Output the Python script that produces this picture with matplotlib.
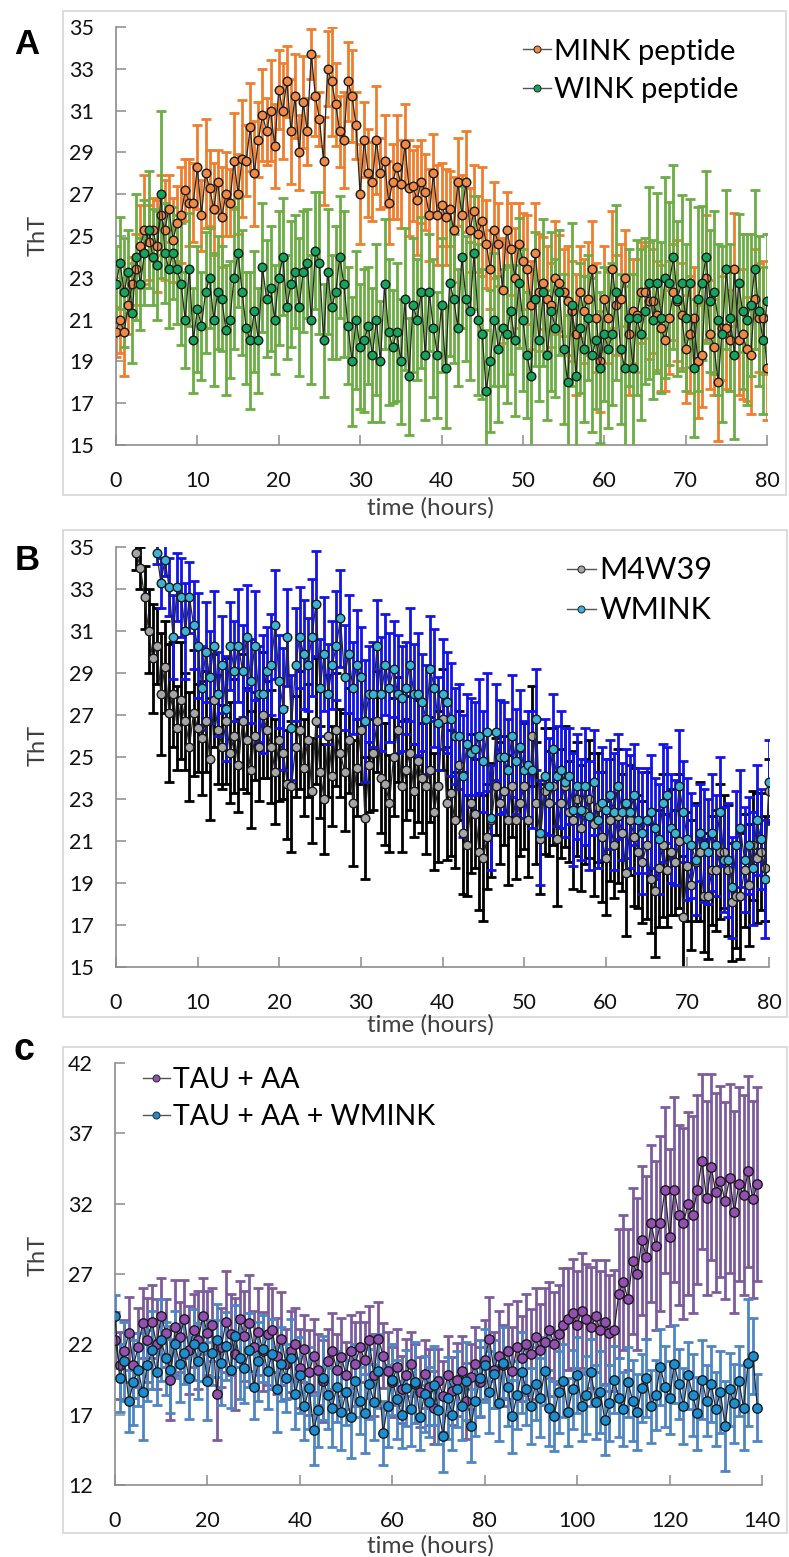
import numpy as np
import matplotlib
matplotlib.use("Agg")
import matplotlib.pyplot as plt
from matplotlib.lines import Line2D
from matplotlib.patches import Rectangle

plt.rcParams['font.family'] = ['Lato', 'DejaVu Sans']

# ---------------- DATA ----------------
# Panel A (time step 0.5 h, starting at 0 h)
a_t0, a_step = 0.0, 0.5
mink = [20.4,21.0,20.4,21.7,22.7,23.4,24.5,25.3,24.7,25.3,24.5,26.0,25.3,26.3,24.8,25.6,26.0,27.2,26.6,26.6,
        28.3,26.0,28.0,27.3,26.3,27.6,25.9,27.0,26.6,28.6,27.0,28.7,28.6,30.2,28.0,29.6,30.8,30.0,31.0,29.3,
        32.0,31.0,32.4,30.0,31.7,29.0,31.4,30.0,33.7,31.7,30.6,28.6,33.0,32.4,31.3,30.0,29.6,32.4,31.7,30.3,
        27.0,29.6,28.0,27.6,29.6,28.0,28.6,26.6,27.6,28.3,27.5,29.4,27.3,27.4,26.7,27.6,27.1,26.0,28.0,26.0,
        26.5,25.9,26.3,25.3,27.6,26.0,27.6,25.3,26.2,25.1,25.7,24.6,23.4,25.3,24.6,22.4,25.3,24.4,23.0,24.6,
        23.8,23.4,21.7,24.2,22.3,22.75,22.0,21.7,23.0,22.75,22.3,21.9,21.4,20.3,22.3,21.4,22.0,23.4,21.1,19.0,
        22.0,21.1,23.4,21.7,22.0,23.0,20.3,21.4,21.2,22.3,22.3,21.9,21.9,21.2,20.6,20.0,21.1,22.3,21.9,21.2,
        19.6,20.3,21.1,19.0,19.3,23.0,20.3,19.7,18.0,20.6,20.6,20.0,23.4,20.0,20.3,19.6,19.3,22.0,21.1,21.1,
        18.7]
mink_err = [1.2,1.6,2.1,1.4,1.3,1.7,2.0,2.6,1.8,1.5,2.2,1.9,2.4,1.6,2.0,1.8,2.3,1.5,2.1,1.9,
            2.0,1.7,2.6,1.8,2.2,1.5,2.4,2.0,1.6,2.3,1.9,2.8,1.7,2.1,2.5,1.8,2.2,1.6,2.4,2.0,
            1.9,2.3,1.7,2.5,2.0,1.8,2.2,1.6,1.2,1.9,1.3,2.1,1.8,2.6,2.0,1.7,2.3,1.9,2.2,1.6,
            2.4,1.8,2.1,1.9,2.6,1.7,2.2,2.0,1.8,2.5,2.1,1.9,2.3,1.7,2.6,2.0,1.8,2.2,1.9,2.4,
            2.0,2.3,1.8,2.5,2.1,1.9,2.4,2.0,2.2,1.8,2.6,2.1,1.9,2.3,2.0,2.5,1.8,2.2,2.4,2.0,
            2.3,2.6,2.1,2.4,2.8,2.2,2.5,2.0,2.7,2.3,2.1,2.6,2.4,2.9,2.2,2.5,2.7,2.3,2.6,2.4,
            2.5,2.2,2.8,2.4,2.6,2.3,2.9,2.5,2.7,2.4,2.2,2.8,2.5,2.6,3.0,2.4,2.7,2.3,2.9,2.5,
            2.6,2.8,2.4,2.7,2.5,3.0,2.6,2.3,2.8,2.5,2.9,2.4,2.7,2.6,3.1,2.5,2.8,2.4,2.6,2.7,
            2.5]
wink = [22.7,23.7,22.3,23.3,21.3,24.0,22.7,24.2,25.3,24.0,23.6,27.0,24.2,23.4,24.2,23.4,22.7,21.0,23.4,20.0,
        21.5,20.7,22.3,23.0,21.0,22.3,22.0,20.5,21.0,23.0,24.2,22.3,20.6,20.0,21.4,20.0,23.5,22.0,22.5,21.0,
        23.0,24.0,21.6,22.7,23.3,21.6,23.3,23.7,21.0,24.3,23.7,20.0,23.3,21.6,22.3,24.0,22.7,20.7,19.0,21.0,
        19.7,20.0,20.7,19.3,21.0,19.0,22.7,20.4,19.7,20.4,19.0,22.0,18.3,21.7,21.0,22.3,19.3,22.3,20.6,19.3,
        21.7,18.7,22.75,22.0,20.6,24.0,22.0,21.4,24.2,21.0,20.3,17.6,19.0,21.0,19.6,20.6,20.3,21.4,20.0,22.75,
        21.0,19.3,18.3,22.0,20.0,22.3,19.3,21.4,20.6,22.3,19.6,18.0,21.7,18.3,20.6,19.6,21.1,19.3,20.0,18.7,
        20.3,19.6,20.3,22.3,19.6,18.7,21.1,18.7,21.1,20.3,21.4,22.75,21.0,22.75,21.1,23.0,22.75,24.0,22.0,22.75,
        21.1,22.75,18.7,22.0,22.75,24.0,21.9,22.3,21.0,20.3,23.4,21.1,19.3,22.75,21.4,21.0,21.7,23.4,21.4,20.0,
        21.9]
wink_err = [1.8,2.2,2.6,2.0,2.4,3.0,2.2,2.5,2.8,2.3,2.6,4.0,2.4,2.8,2.2,2.6,2.9,2.3,2.7,2.5,
            3.0,2.6,2.9,2.4,3.2,2.7,2.5,3.1,2.8,3.4,2.6,3.0,2.7,3.3,2.9,2.5,3.1,2.8,3.0,2.6,
            3.2,2.8,2.5,3.0,2.7,3.3,2.9,2.6,3.1,2.8,3.4,2.7,3.0,2.5,3.2,2.9,3.5,2.8,3.1,3.3,
            3.0,3.4,2.8,3.2,3.6,2.9,3.1,3.5,2.7,3.3,3.0,3.4,2.8,3.2,2.9,3.6,3.1,2.8,3.3,3.0,
            3.2,2.9,3.5,3.1,2.8,3.4,3.0,3.3,2.7,3.6,3.1,2.9,3.4,3.2,3.5,2.8,3.3,3.0,3.6,3.1,
            3.4,3.0,3.7,3.2,2.9,3.5,3.1,3.8,3.3,3.0,3.6,3.2,3.9,3.4,3.1,3.5,3.0,3.7,3.3,3.6,
            3.2,3.8,3.4,4.2,3.6,3.9,3.3,4.5,3.7,4.1,3.5,4.6,3.8,4.3,3.6,4.8,3.9,4.4,3.7,4.2,
            3.5,4.0,3.3,4.4,3.7,4.1,3.4,3.9,3.6,4.2,3.8,3.5,4.0,3.3,3.7,4.1,3.4,3.8,3.6,3.5,
            3.2]

# Panel B (time step 0.5 h)
m4_t0, wm_t0, b_step = 2.5, 5.0, 0.5
m4w39 = [34.7,34.0,32.6,31.0,29.7,30.3,28.0,29.3,27.1,28.0,26.4,27.7,26.7,25.5,27.1,26.4,25.9,26.7,24.9,27.7,
         26.3,25.5,26.7,25.2,26.0,24.6,26.7,25.8,24.4,26.0,25.5,27.0,26.3,25.5,24.3,25.8,25.2,23.7,23.6,25.5,
         26.3,24.5,25.8,23.4,26.7,24.3,23.0,26.0,24.1,26.3,25.2,24.3,25.8,22.8,24.5,26.3,22.1,24.6,25.2,26.7,
         24.0,23.7,22.8,25.0,26.3,23.6,24.4,25.2,23.4,24.8,24.0,23.6,24.4,22.4,23.6,26.8,22.8,23.3,22.0,24.6,
         21.4,20.8,22.8,22.3,20.5,20.2,21.2,22.0,23.6,22.8,23.4,22.0,23.6,22.0,22.8,23.6,22.0,26.0,22.8,21.1,
         23.4,22.8,23.6,21.1,22.8,23.6,22.4,22.0,23.0,21.6,22.4,23.0,21.8,22.6,21.2,20.2,22.0,20.8,22.2,21.4,
         19.5,22.0,21.2,20.5,20.0,20.8,19.2,18.6,19.7,20.8,19.6,20.5,20.0,21.0,17.4,19.8,18.9,20.0,20.5,18.4,
         18.4,19.6,19.6,20.5,20.5,19.6,18.1,18.4,18.4,19.6,18.9,20.8,20.2,20.5,19.7,23.4]
m4w39_err = [0.8,1.0,1.5,2.0,2.6,1.8,2.9,2.2,3.3,2.5,2.0,2.8,2.3,2.6,3.0,2.1,2.7,2.4,2.9,2.2,
             2.6,2.0,3.0,2.4,2.7,2.2,3.2,2.5,2.8,2.1,2.6,3.0,2.3,2.7,2.5,2.9,2.2,2.6,3.1,2.4,
             2.8,2.3,2.7,2.5,3.0,2.2,2.6,2.9,2.4,2.7,2.1,2.8,2.5,3.0,2.3,2.6,2.9,2.2,2.7,2.4,
             2.6,2.9,2.3,2.8,2.5,3.1,2.4,2.7,2.2,2.9,2.6,3.2,2.5,2.8,3.6,2.4,2.7,3.0,2.3,2.6,
             2.9,2.4,3.3,2.6,2.8,3.0,2.5,2.7,2.3,2.9,2.6,3.1,2.4,2.8,2.5,3.0,2.7,2.4,2.9,2.6,
             3.0,2.5,2.8,3.2,2.6,2.9,2.4,3.3,2.7,3.0,2.5,2.8,3.4,2.6,3.1,2.7,2.9,2.5,3.2,2.8,
             3.0,2.6,3.3,2.7,2.9,3.5,2.6,3.1,2.8,3.4,2.7,3.0,2.5,3.2,2.9,2.6,3.1,2.8,3.3,2.7,
             3.0,2.6,2.9,3.2,2.7,3.1,2.8,2.5,3.0,2.7,2.9,2.6,3.1,2.8,2.5,1.5]
wmink = [34.7,33.3,34.4,33.1,30.7,33.1,32.6,31.0,32.6,31.3,30.3,28.3,30.0,28.8,30.3,28.0,29.4,27.3,30.3,29.1,
         30.3,29.1,30.7,28.6,30.3,28.0,28.0,29.1,29.4,31.3,28.6,27.3,30.7,26.4,29.4,30.7,29.9,29.4,30.7,32.3,
         28.3,29.9,28.0,29.4,30.3,31.6,28.8,29.9,28.3,29.4,28.8,26.7,28.0,28.0,30.3,28.0,29.4,28.3,29.2,28.0,
         27.8,28.3,29.4,28.0,28.0,27.6,26.8,29.2,28.3,26.6,28.0,27.6,26.8,26.0,26.0,24.1,25.6,25.2,25.4,26.0,
         24.8,26.2,22.1,26.2,25.0,25.0,24.4,26.0,24.8,25.5,24.4,24.6,24.4,26.8,21.4,24.1,23.6,25.4,24.1,24.4,
         23.8,24.1,22.5,23.6,22.5,23.6,22.2,23.8,22.0,22.8,22.5,23.2,22.4,23.6,22.4,22.8,22.4,23.2,22.0,21.4,
         22.0,22.4,21.6,21.1,22.8,23.2,21.6,21.4,23.6,22.4,21.1,20.8,20.1,21.4,20.8,20.5,21.4,20.8,22.4,20.1,
         20.1,18.8,20.8,21.6,20.1,20.8,19.7,22.0,21.1,19.2,23.8]
wmink_err = [0.5,1.2,0.8,1.4,2.0,1.6,1.9,2.3,1.7,2.1,2.5,2.0,2.4,2.2,2.6,2.0,2.3,2.5,2.1,2.4,
             2.7,2.2,2.5,2.0,2.6,2.3,2.8,2.1,2.4,2.6,2.2,2.9,2.3,2.5,2.7,2.4,2.6,2.2,2.8,2.5,
             2.3,2.7,2.4,2.1,2.6,2.3,2.5,2.8,2.2,2.6,2.4,2.9,2.3,2.5,2.2,2.7,2.4,2.6,2.3,2.8,
             2.5,2.2,2.7,2.4,2.9,2.3,2.6,2.5,2.8,2.2,2.6,2.4,2.7,2.3,2.5,2.9,2.4,2.6,2.2,2.7,
             2.4,2.8,2.5,2.3,2.7,2.6,2.4,2.9,2.5,2.7,2.3,2.6,2.8,2.4,2.5,2.7,2.3,2.6,2.4,2.8,
             2.6,2.3,2.7,2.5,2.4,2.8,2.6,2.5,2.3,2.7,2.4,2.6,2.8,2.5,2.3,2.6,2.7,2.4,2.5,2.9,
             2.5,2.7,2.4,2.6,2.8,2.3,2.6,2.5,2.7,2.4,2.9,2.5,2.6,2.3,2.7,2.5,2.8,2.4,2.6,2.5,
             2.7,2.4,2.6,2.8,2.5,2.3,2.7,2.6,2.4,2.8,2.0]

# Panel C (time step 1 h, starting at 0 h)
c_t0, c_step = 0.0, 1.0
tau_aa = [22.3,20.5,21.5,22.8,20.5,21.8,23.5,22.3,23.6,22.0,24.0,22.8,19.5,23.2,22.5,23.8,21.6,23.0,22.3,24.0,
          22.8,23.4,18.5,21.8,23.6,22.7,21.3,23.8,22.6,23.5,21.8,22.9,21.5,22.7,23.0,21.2,22.4,20.6,21.5,22.0,
          20.3,21.7,20.0,21.2,20.2,19.4,20.8,21.5,20.2,21.1,19.8,21.5,20.6,21.8,20.9,22.3,19.8,22.4,21.2,20.1,
          19.3,20.4,18.8,19.8,20.6,19.2,18.6,19.9,19.0,17.5,19.4,18.3,19.8,18.7,19.5,20.1,18.0,19.7,20.6,19.3,
          20.9,22.4,20.2,21.2,20.5,21.5,20.1,21.8,21.0,22.0,21.3,22.5,21.6,22.2,23.0,22.0,22.7,23.4,23.8,24.2,
          23.4,24.4,23.8,23.2,24.0,23.0,23.6,22.8,23.0,25.6,26.4,25.2,27.9,27.0,29.4,28.2,30.6,29.0,30.6,33.0,
          29.6,33.0,31.2,30.6,32.0,31.2,33.0,35.0,32.4,34.6,32.8,33.6,32.2,33.8,31.4,33.4,32.6,34.3,32.3,33.4]
tau_aa_err = [2.0,2.4,2.2,2.6,2.3,2.8,2.5,3.0,2.6,3.2,2.7,2.4,2.9,3.4,2.5,2.8,3.1,2.6,3.5,2.7,
              3.0,2.6,3.3,2.8,3.6,2.9,4.0,2.7,3.2,3.4,2.6,3.1,2.8,3.6,3.0,2.7,3.3,2.5,2.9,2.6,
              2.8,2.4,3.0,2.6,2.5,2.9,2.3,2.7,2.5,2.8,2.4,2.6,3.0,2.5,2.7,2.4,2.9,2.6,2.3,2.8,
              2.5,2.7,2.4,2.6,2.3,2.8,2.5,2.4,2.7,2.6,2.3,2.5,2.8,2.4,2.6,2.5,2.7,2.3,2.6,2.5,
              2.8,3.0,2.7,3.2,2.9,3.4,3.1,3.3,3.0,3.6,3.2,3.5,3.3,3.8,3.4,3.7,3.5,4.0,3.6,3.9,
              3.8,4.1,3.9,4.3,4.0,4.2,4.4,4.1,4.3,4.6,4.8,5.0,5.2,5.4,5.3,5.8,5.6,6.0,6.2,5.9,
              6.3,6.6,6.4,6.8,6.5,7.0,6.7,6.2,6.9,6.6,7.1,6.8,7.0,6.7,7.2,6.9,7.1,6.8,7.0,6.9]
tau_aa_wmink = [24.0,19.6,20.8,18.0,19.3,20.2,18.6,20.5,21.6,20.0,22.3,21.0,20.2,22.0,20.6,21.4,19.6,22.0,20.8,21.8,
                19.4,21.4,22.3,20.7,21.9,20.2,22.6,21.0,20.3,21.6,19.0,20.8,21.7,20.1,21.3,18.8,20.6,19.6,21.0,18.5,
                19.8,17.6,18.9,15.9,17.3,19.6,18.4,17.5,19.0,17.2,18.6,16.8,19.4,18.0,17.1,19.2,17.9,20.1,15.7,17.6,
                19.5,18.1,17.0,18.9,17.4,19.3,16.8,18.5,17.9,19.1,17.3,15.5,18.2,17.0,18.8,17.6,19.4,16.2,18.0,19.6,
                20.5,18.6,19.9,17.8,20.7,19.0,16.9,18.4,20.0,18.8,17.6,19.2,18.2,20.1,17.5,16.9,18.6,19.4,17.2,18.8,
                19.8,17.6,18.4,20.0,17.9,18.6,16.6,17.8,19.5,18.2,17.4,19.3,18.0,17.2,18.9,19.6,17.6,18.4,20.4,19.0,
                18.2,20.6,19.2,17.6,19.8,18.4,17.1,19.5,18.0,19.2,17.4,18.6,16.2,18.8,17.8,19.4,17.5,20.7,21.2,17.5]
tau_aa_wmink_err = [1.5,2.4,2.8,2.2,3.0,2.6,3.4,2.5,2.8,2.3,2.9,2.6,3.1,2.4,2.7,2.2,2.9,2.5,2.7,2.4,
                    2.8,2.3,2.6,3.0,2.4,2.7,2.2,2.9,2.5,2.6,2.3,2.8,2.4,2.7,2.5,3.0,2.6,2.4,2.8,2.5,
                    2.7,2.4,2.9,2.5,2.6,3.0,2.4,2.8,2.5,2.7,2.3,2.9,2.6,2.4,2.8,2.5,2.7,2.6,2.3,2.9,
                    2.5,2.8,2.4,2.7,2.6,2.9,2.3,2.7,2.5,2.8,2.4,2.6,2.9,2.5,2.7,2.4,2.8,2.6,2.5,2.7,
                    2.6,2.9,2.4,2.7,2.5,2.8,2.6,2.4,2.9,2.5,2.7,2.6,2.8,2.4,2.7,2.5,2.9,2.6,2.4,2.8,
                    2.7,2.5,2.8,2.4,2.6,2.9,2.5,2.7,2.4,2.8,2.6,2.5,2.9,2.7,2.4,2.8,2.6,2.5,2.7,2.9,
                    2.6,2.8,2.5,2.7,2.4,2.9,2.6,2.8,2.5,2.7,2.6,2.9,3.2,2.6,2.8,2.5,3.0,4.5,2.7,2.4]

# ---------------- FIGURE ----------------
W, H = 789, 1557
fig = plt.figure(figsize=(W / 100, H / 100), dpi=100)


def fx(px):
    return px / W


def fy(py):
    return 1 - py / H


def add_frame(x0, y0, x1, y1):
    fig.add_artist(Rectangle((fx(x0), fy(y1)), fx(x1) - fx(x0), fy(y0) - fy(y1),
                             transform=fig.transFigure, fill=False, ec='#d6d6d6', lw=1.2))


def make_axes(x0, y0, x1, y1):
    ax = fig.add_axes([fx(x0), fy(y1), fx(x1) - fx(x0), fy(y0) - fy(y1)])
    for s in ('top', 'right'):
        ax.spines[s].set_visible(False)
    for s in ('left', 'bottom'):
        ax.spines[s].set_color('#8c8c8c')
        ax.spines[s].set_linewidth(1.2)
    ax.tick_params(axis='both', direction='in', length=7, width=1.1, color='#8c8c8c',
                   labelsize=15.5, labelcolor='#111111')
    ax.tick_params(axis='y', pad=16)
    ax.tick_params(axis='x', pad=19)
    ax.patch.set_alpha(0)
    return ax


def series(ax, t0, step, vals, errs, ecol, elw=2.0, z=2):
    x = t0 + step * np.arange(len(vals))
    ax.errorbar(x, vals, yerr=errs, fmt='none', ecolor=ecol, elinewidth=elw,
                capsize=3.4, capthick=elw, zorder=z)
    return x


def markers(ax, x, vals, face, z=5, ms=6.2):
    ax.plot(x, vals, '-', color='#262626', lw=0.9, marker='o', ms=ms, mfc=face,
            mec='#1a1a1a', mew=1.0, zorder=z)


def legend(ax, labels, faces, anchor, fs, spacing):
    hs = [Line2D([], [], color='#555555', lw=1.0, marker='o', ms=5, mfc=f, mec='#333333', mew=0.8)
          for f in faces]
    ax.legend(hs, labels, loc='upper left', bbox_to_anchor=anchor, frameon=False, fontsize=fs,
              handlelength=0.95, handletextpad=0.12, labelspacing=spacing, borderaxespad=0,
              borderpad=0)


# ---- Panel A ----
add_frame(63, 11, 786, 495)
axA = make_axes(116, 27, 767, 445)
c_or, c_orE = '#EE8A46', '#EE7F2F'
c_gr, c_grE = '#16A35C', '#6DAD45'
xm = series(axA, a_t0, a_step, mink, mink_err, c_orE, z=2)
xw = series(axA, a_t0, a_step, wink, wink_err, c_grE, z=3)
markers(axA, xm, mink, c_or, z=5)
markers(axA, xw, wink, c_gr, z=6)
axA.set_xlim(0, 80)
axA.set_ylim(15, 35)
axA.set_xticks(range(0, 81, 10))
axA.set_yticks(range(15, 36, 2))
legend(axA, ['MINK peptide', 'WINK peptide'], [c_or, c_gr], (0.625, 0.972), 21, 0.42)

# ---- Panel B ----
add_frame(63, 530, 787, 1017)
axB = make_axes(116, 547, 769, 967)
c_gy, c_gyE = '#A6A6A6', '#000000'
c_cy, c_cyE = '#3BB3D6', '#1414E6'
xg = series(axB, m4_t0, b_step, m4w39, m4w39_err, c_gyE, z=2)
xc = series(axB, wm_t0, b_step, wmink, wmink_err, c_cyE, z=3)
markers(axB, xg, m4w39, c_gy, z=5)
markers(axB, xc, wmink, c_cy, z=6)
axB.set_xlim(0, 80)
axB.set_ylim(15, 35)
axB.set_xticks(range(0, 81, 10))
axB.set_yticks(range(15, 36, 2))
legend(axB, ['M4W39', 'WMINK'], [c_gy, c_cy], (0.69, 0.978), 22, 0.4)

# ---- Panel C ----
add_frame(63, 1047, 787, 1533)
axC = make_axes(115, 1063, 762, 1485)
c_pu, c_puE = '#9350B0', '#7D5C9E'
c_bl, c_blE = '#1C8ED0', '#4F86C2'
xp = series(axC, c_t0, c_step, tau_aa, tau_aa_err, c_puE, elw=2.0, z=2)
xb = series(axC, c_t0, c_step, tau_aa_wmink, tau_aa_wmink_err, c_blE, elw=2.0, z=3)
markers(axC, xp, tau_aa, c_pu, z=5, ms=6.8)
markers(axC, xb, tau_aa_wmink, c_bl, z=6, ms=6.8)
axC.set_xlim(0, 140)
axC.set_ylim(12, 42)
axC.set_xticks(range(0, 141, 20))
axC.set_yticks(range(12, 43, 5))
legend(axC, ['TAU + AA', 'TAU + AA + WMINK'], [c_pu, c_bl], (0.043, 0.99), 20.5, 0.38)

# ---- labels ----
lab_col = '#404040'
for yc in (235, 745, 1255):
    fig.text(fx(38), fy(yc), 'ThT', rotation=90, ha='center', va='center', fontsize=17, color=lab_col)
for yc in (508, 1025, 1546):
    fig.text(fx(430), fy(yc), 'time (hours)', ha='center', va='center', fontsize=17.5, color=lab_col)

fig.text(fx(27), fy(45), 'A', ha='center', va='center', fontsize=25, fontweight='bold',
         family='Liberation Sans')
fig.text(fx(27), fy(560), 'B', ha='center', va='center', fontsize=25, fontweight='bold',
         family='Liberation Sans')
fig.text(fx(24), fy(1050), 'c', ha='center', va='center', fontsize=27, fontweight='bold',
         family='Liberation Sans')

fig.savefig('out.png', dpi=100)
